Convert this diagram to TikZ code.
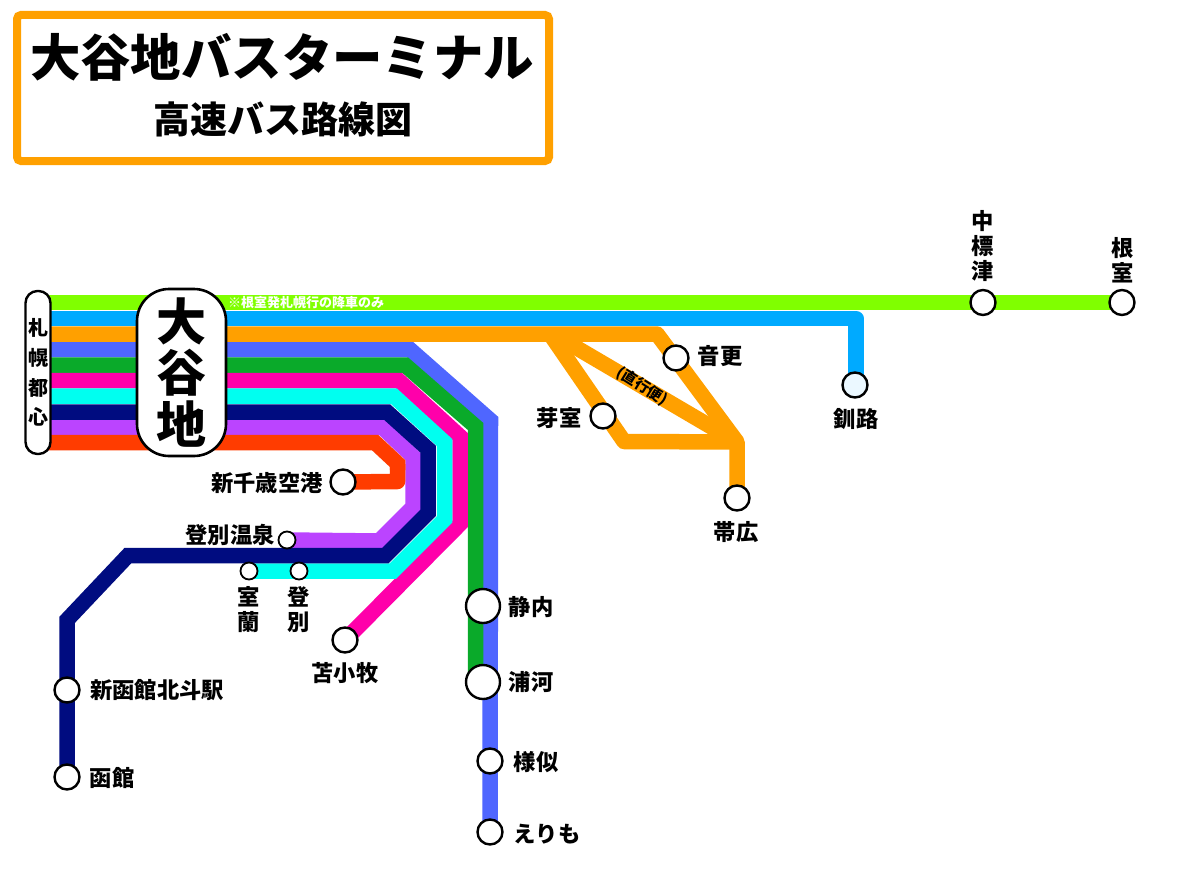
\documentclass[tikz,border=0pt]{standalone}
\usepackage{fontspec}
\setmainfont{Noto Sans CJK JP}
\usetikzlibrary{backgrounds}
\definecolor{clime}{HTML}{80FF00}
\definecolor{cblue}{HTML}{00AAFF}
\definecolor{corange}{HTML}{FFA000}
\definecolor{cperi}{HTML}{4F66FF}
\definecolor{cgreen}{HTML}{0AAA2A}
\definecolor{cmag}{HTML}{FF00AA}
\definecolor{ccyan}{HTML}{00FFF0}
\definecolor{cnavy}{HTML}{000C80}
\definecolor{cpurple}{HTML}{BB44FF}
\definecolor{cred}{HTML}{FF3C00}
\newcommand{\fs}[2]{\fontsize{#1}{#2}\selectfont\bfseries}
\tikzset{
  x=1pt,y=-1pt,
  route/.style={line width=15.5pt,line cap=butt,line join=miter,miter limit=10},
  roundroute/.style={route,line join=round},
  stn/.style={circle,draw=black,fill=white,line width=2.4pt,minimum size=25pt,inner sep=0pt},
  stnS/.style={stn,line width=1.8pt,minimum size=17pt},
  stnL/.style={stn,minimum size=34pt},
  lab/.style={inner sep=0pt,text=black,font=\fs{22.3}{25},align=center},
  term/.style={draw=black,fill=white,line width=2.4pt,rounded corners=12pt,inner sep=0pt,align=center}
}
\begin{document}
\begin{tikzpicture}
\useasboundingbox (0,0) rectangle (1199,875);
% title
\node[draw=corange,line width=8pt,rounded corners=4pt,fill=white,minimum width=532pt,minimum height=146pt,inner sep=0pt] (titlebox) at (283,88) {};
\node[lab,font=\fs{50.4}{54}] (title) at (282,57) {大谷地バスターミナル};
\node[lab,font=\fs{37}{40}] (subtitle) at (283,119) {高速バス路線図};
% terminals
\node[term,minimum width=25pt,minimum height=163pt,rounded corners=12pt,font=\fs{20}{29.7}] (sapporo) at (38,372.5) {札\\幌\\都\\心};
\node[term,minimum width=89pt,minimum height=167pt,rounded corners=32pt,line width=2.6pt,font=\fs{50}{51.5}] (otani) at (181.5,372.5) {大\\谷\\地};
% stations
\node[stn] (nakashibetsu) at (983,302.5) {};
\node[stn] (nemuro) at (1122,302.5) {};
\node[stn,fill=cblue!8] (kushiro) at (855,385) {};
\node[stn] (otofuke) at (676,358) {};
\node[stn] (memuro) at (603,416) {};
\node[stn] (obihiro) at (737,498) {};
\node[stn] (chitose) at (343,482) {};
\node[stnS] (noboribetsuonsen) at (287,540) {};
\node[stnS] (muroran) at (249,571) {};
\node[stnS] (noboribetsu) at (299,571) {};
\node[stn] (tomakomai) at (345,640) {};
\node[stnL] (shizunai) at (483,606) {};
\node[stnL] (urakawa) at (483,682) {};
\node[stn] (samani) at (490,761) {};
\node[stn] (erimo) at (490,832) {};
\node[stn] (shinhakodate) at (67,690) {};
\node[stn] (hakodate) at (67,777) {};
% labels
\node[lab] (l1) at (983,246) {中\\標\\津};
\node[lab] (l2) at (1123,260) {根\\室};
\node[lab] (l3) at (720,356) {音更};
\node[lab] (l4) at (856,419) {釧路};
\node[lab] (l5) at (559,418) {芽室};
\node[lab] (l6) at (736,532) {帯広};
\node[lab] (l7) at (267,483) {新千歳空港};
\node[lab] (l8) at (230,535) {登別温泉};
\node[lab] (l9) at (249,610) {室\\蘭};
\node[lab] (l10) at (299,610) {登\\別};
\node[lab] (l11) at (345,673) {苫小牧};
\node[lab] (l12) at (531,607) {静内};
\node[lab] (l13) at (531,682) {浦河};
\node[lab] (l14) at (536,762) {様似};
\node[lab] (l15) at (547,834) {えりも};
\node[lab] (l16) at (157,690) {新函館北斗駅};
\node[lab] (l17) at (112,778) {函館};
\node[lab,text=white,font=\fs{13}{14}] (note) at (306,302.5) {※根室発札幌行の降車のみ};
% route starts
\coordinate (a1) at (40,302.5);
\coordinate (a2) at (40,318.5);
\coordinate (a3) at (40,334);
\coordinate (a4) at (40,349.5);
\coordinate (a5) at (40,365);
\coordinate (a6) at (40,380.5);
\coordinate (a7) at (40,396);
\coordinate (a8) at (40,412);
\coordinate (a9) at (40,427);
\coordinate (a10) at (40,442.5);
\coordinate (jct) at (737,442);
\begin{scope}[on background layer]
\fill[white] (0,0) rectangle (1199,875);
\draw[route,clime] (a1) -- (nakashibetsu.center) -- (nemuro.center);
\draw[roundroute,cblue] (a2) -- (856,318.5) -- (856,385);
\draw[route,cperi] (a4) -- (410,349.5) -- (490.5,420.4) -- (erimo.center);
\draw[route,cgreen] (a5) -- (405,365) -- (475.5,426.4) -- (475.5,682);
\draw[route,cmag] (a6) -- (398.7,380.5) -- (460,436.4) -- (460,524) -- (tomakomai.center);
\draw[route,ccyan] (a7) -- (393.7,396) -- (444.5,442.4) -- (444.5,519.5) -- (393,571) -- (muroran.center);
\draw[route,cpurple] (a9) -- (382,427) -- (413,456.5) -- (413,507) -- (379,541) -- (noboribetsuonsen.center);
\draw[route,cnavy] (a8) -- (387,412) -- (428,449) -- (428,513) -- (385.5,555.5) -- (128,555.5) -- (67,620) -- (hakodate.center);
\draw[route,cred] (a10) -- (375,442.5) -- (397.5,463.5) -- (397.5,470);
\draw[roundroute,cred] (397.5,464) -- (397.5,481.5) -- (chitose.center);
\draw[roundroute,corange] (a3) -- (657,334) -- (jct) -- (obihiro.center);
\draw[roundroute,corange] (550,334) -- (624,441.5) -- (jct);
\draw[roundroute,corange] (553,334) -- (jct);
\end{scope}
\node[lab,font=\fs{15}{16},rotate=-32] (direct) at (642,386) {(直行便)};
\end{tikzpicture}
\end{document}
